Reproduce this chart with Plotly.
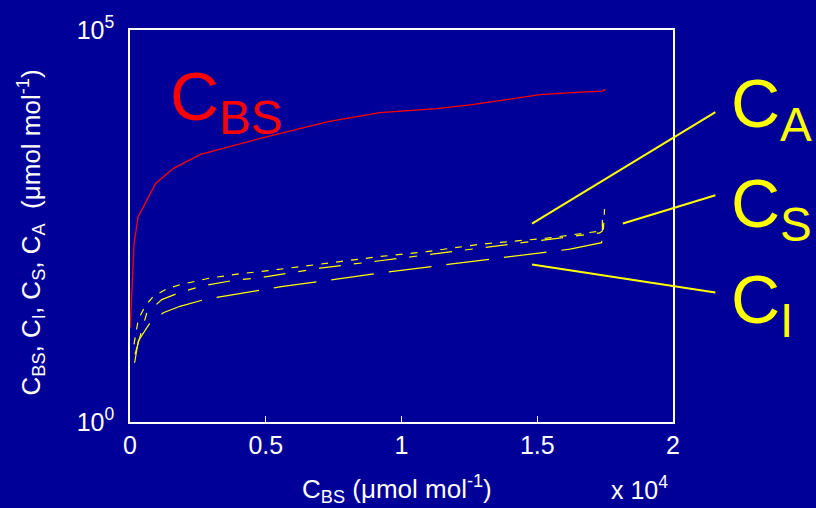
import plotly.graph_objects as go

# ---- data ----
cbs_x = [10, 150, 300, 950, 1600, 2600, 4800, 7300, 9200, 11300, 12600, 14000, 15100, 16600, 17400, 17500]
cbs_y = [16, 190, 415, 1110, 1720, 2590, 4140, 6800, 8850, 9940, 11170, 13310, 14970, 16100, 16600, 17330]

ca_x = [147, 306, 552, 858, 1352, 1842, 2946, 4051, 5156, 6261, 6998, 9208, 10928, 12891, 15347, 17432, 17469, 17477]
ca_y = [9.8, 20.3, 29.9, 40.1, 49.7, 56.4, 68.6, 77.8, 85.7, 96.3, 103, 129, 149, 185, 221, 276, 436, 520]

cs_x = [184, 620, 1172, 1842, 2700, 3794, 4788, 6016, 6998, 9208, 10928, 12891, 15347, 17300, 17395, 17410]
cs_y = [7.3, 24.7, 36.4, 45.1, 54.8, 63.9, 69.2, 80.8, 91.9, 114, 136, 166, 210, 258, 273, 335]

ci_x = [170, 306, 737, 1226, 1842, 2825, 3425, 5035, 5635, 6998, 9208, 11786, 13996, 16205, 17373, 17395, 17400]
ci_y = [5.7, 10.8, 18.4, 24.7, 29.9, 37.1, 40.1, 49.7, 53.7, 62.1, 79.4, 103, 127, 160, 194, 265, 377]

x_ticks = [0, 5000, 10000, 15000, 20000]
x_ticktext = ["0", "0.5", "1", "1.5", "2"]
y_ticks = [1, 100000]
y_ticktext = ["10<sup>0</sup>", "10<sup>5</sup>"]

BG = "#000099"
FONT = "Liberation Sans, Arial, sans-serif"

fig = go.Figure()
fig.add_trace(go.Scatter(x=cbs_x, y=cbs_y, mode="lines", line=dict(color="#FF0000", width=1.3), showlegend=False))
fig.add_trace(go.Scatter(x=ca_x, y=ca_y, mode="lines", line=dict(color="#FFFF00", width=1.2, dash="7px,8px"), showlegend=False))
fig.add_trace(go.Scatter(x=cs_x, y=cs_y, mode="lines", line=dict(color="#FFFF00", width=1.2, dash="22px,13px,8px,13px"), showlegend=False))
fig.add_trace(go.Scatter(x=ci_x, y=ci_y, mode="lines", line=dict(color="#FFFF00", width=1.2, dash="43px,15px"), showlegend=False))

# leader lines for the labels
leaders = [
    (0.7404, 0.5062, 1.0781, 0.7906),
    (0.9077, 0.5062, 1.0781, 0.5783),
    (0.7404, 0.4018, 1.0781, 0.3304),
]
for x0, y0, x1, y1 in leaders:
    fig.add_shape(type="line", xref="paper", yref="paper", x0=x0, y0=y0, x1=x1, y1=y1,
                  line=dict(color="#FFFF00", width=2))

big = dict(family=FONT, size=68)
fig.add_annotation(text="C<sub>BS</sub>", xref="paper", yref="paper", x=0.0708, y=0.820,
                   xanchor="left", yanchor="middle", showarrow=False, font=dict(big, color="#FF0000"))
fig.add_annotation(text="C<sub>A</sub>", xref="paper", yref="paper", x=1.104, y=0.800,
                   xanchor="left", yanchor="middle", showarrow=False, font=dict(big, color="#FFFF00"))
fig.add_annotation(text="C<sub>S</sub>", xref="paper", yref="paper", x=1.104, y=0.546,
                   xanchor="left", yanchor="middle", showarrow=False, font=dict(big, color="#FFFF00"))
fig.add_annotation(text="C<sub>I</sub>", xref="paper", yref="paper", x=1.104, y=0.300,
                   xanchor="left", yanchor="middle", showarrow=False, font=dict(big, color="#FFFF00"))

# axis titles and exponent
fig.add_annotation(text="C<sub>BS</sub> (μmol mol<sup>-1</sup>)", xref="paper", yref="paper",
                   x=0.4917, y=-0.1707, xanchor="center", yanchor="middle", showarrow=False,
                   font=dict(family=FONT, size=26, color="white"))
fig.add_annotation(text="x 10<sup>4</sup>", xref="paper", yref="paper",
                   x=0.883, y=-0.168, xanchor="left", yanchor="middle", showarrow=False,
                   font=dict(family=FONT, size=25, color="white"))
fig.add_annotation(text="C<sub>BS</sub>, C<sub>I</sub>, C<sub>S</sub>, C<sub>A</sub>  (μmol mol<sup>-1</sup>)",
                   xref="paper", yref="paper", x=-0.182, y=0.484, xanchor="center", yanchor="middle",
                   textangle=-90, showarrow=False, font=dict(family=FONT, size=26, color="white"))

fig.update_layout(
    width=816, height=508,
    margin=dict(l=129.5, r=142.5, t=29.5, b=86, pad=0),
    paper_bgcolor=BG, plot_bgcolor=BG,
    font=dict(family=FONT, color="white"),
    showlegend=False,
)
fig.update_xaxes(range=[0, 20000], tickvals=x_ticks, ticktext=x_ticktext, ticks="inside", ticklen=6,
                 tickwidth=1, tickcolor="white", showgrid=False, zeroline=False, showline=True,
                 linecolor="white", linewidth=1.5, mirror=True, tickfont=dict(family=FONT, size=25, color="white"))
fig.update_yaxes(type="log", range=[0, 5], tickvals=y_ticks, ticktext=y_ticktext, ticks="",
                 showgrid=False, zeroline=False, showline=True, linecolor="white", linewidth=1.5,
                 mirror=True, ticklabelstandoff=9, tickfont=dict(family=FONT, size=25, color="white"))

fig.write_html("out.html", config={"displayModeBar": False},
               post_script="document.body.style.margin='0';document.body.style.background='" + BG + "';")
